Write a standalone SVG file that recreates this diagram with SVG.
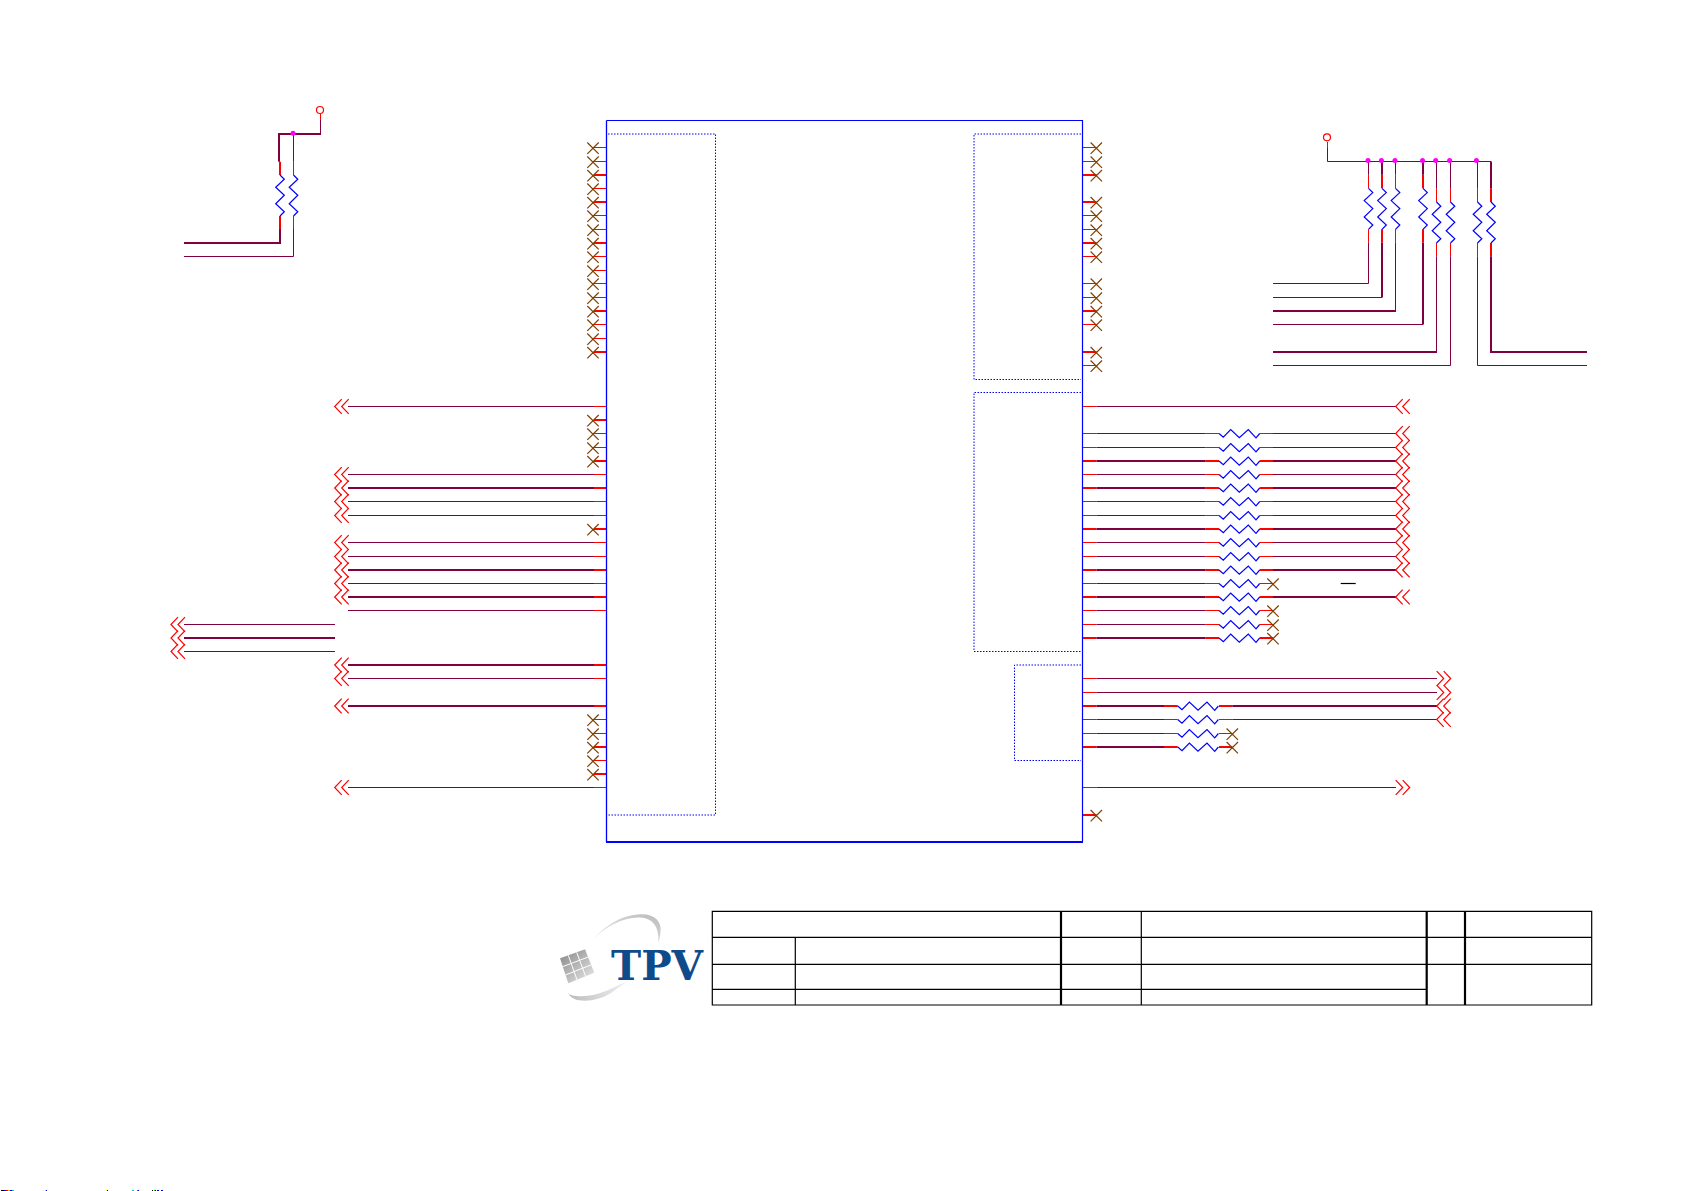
<svg xmlns="http://www.w3.org/2000/svg" width="1685" height="1191" viewBox="0 0 1685 1191">
<style>
.bg{fill:#fff}
.w{fill:none;stroke:#800040;stroke-width:1}
.W{fill:none;stroke:#800040;stroke-width:2}
.r{fill:none;stroke:#f00;stroke-width:1}
.R{fill:none;stroke:#f00;stroke-width:2}
.zig{fill:none;stroke:#00f;stroke-width:1.2}
.x{fill:none;stroke:#804000;stroke-width:1.2}
.chev{fill:none;stroke:#f00;stroke-width:1.2}
.dot{fill:none;stroke:#00f;stroke-width:1;stroke-dasharray:1.5 1.5}
.j{fill:#f0f}
.vcc{fill:#fff;stroke:#f00;stroke-width:1.2}
.t{stroke:#000;stroke-width:1.2;fill:none}
.T{stroke:#000;stroke-width:2.2;fill:none}
</style>
<defs>
<path id="rh" class="zig" d="M0,0L4.3,3.7L11.7,-4L20.3,4.3L29.3,-4L37,4.3L40.7,0"/>
<path id="rv" class="zig" d="M0,0L4.3,4.3L-4.3,12.3L4.3,20.3L-4.3,28.7L4.3,36.7L0,41"/>
<path id="x" class="x" d="M-5.7,-5L5.7,6.4M-5.7,6.4L5.7,-5"/>
<path id="cl" class="chev" d="M-7,-7.3L-14,0L-7,7.3M0,-7.3L-7,0L0,7.3"/>
<path id="cr" class="chev" d="M0,-7.3L7,0L0,7.3M7,-7.3L14,0L7,7.3"/>
<linearGradient id="gp" x1="0" y1="0" x2="1" y2="1"><stop offset="0" stop-color="#858585"/><stop offset="1" stop-color="#ececec"/></linearGradient>
<linearGradient id="ga" x1="0" y1="1" x2="1" y2="0"><stop offset="0" stop-color="#f0f1f2"/><stop offset="1" stop-color="#b9bbbd"/></linearGradient>
<linearGradient id="gb" x1="0" y1="0" x2="1" y2="0"><stop offset="0" stop-color="#b9bbbd"/><stop offset="1" stop-color="#f2f3f4"/></linearGradient>
</defs>
<rect class="bg" width="1685" height="1191"/>

<g id="connectors">
<path class="w" d="M348,406.5H594M348,474.5H594M348,501.5H594M348,515.5H594M348,542.5H594M348,556.5H594M348,583.5H594M348,610.5H594M348,678.5H594M348,787.5H594"/>
<path class="W" d="M348,488H594M348,570H594M348,597H594M348,665H594M348,706H594"/>
<path class="w" d="M184,624.5H335M184,651.5H335"/>
<path class="W" d="M184,638H335"/>
<path class="r" d="M606,147.5H594M606,161.5H594M606,188.5H594M606,215.5H594M606,229.5H594M606,256.5H594M606,270.5H594M606,283.5H594M606,297.5H594M606,324.5H594M606,338.5H594M606,406.5H594M606,433.5H594M606,447.5H594M606,474.5H594M606,501.5H594M606,515.5H594M606,542.5H594M606,556.5H594M606,583.5H594M606,610.5H594M606,678.5H594M606,719.5H594M606,733.5H594M606,760.5H594M606,787.5H594"/>
<path class="R" d="M606,175H594M606,202H594M606,243H594M606,311H594M606,352H594M606,420H594M606,461H594M606,488H594M606,529H594M606,570H594M606,597H594M606,665H594M606,706H594M606,747H594M606,774H594"/>
<path class="r" d="M1082,147.5H1096.5M1082,161.5H1096.5M1082,215.5H1096.5M1082,229.5H1096.5M1082,256.5H1096.5M1082,283.5H1096.5M1082,297.5H1096.5M1082,324.5H1096.5M1082,365.5H1096.5M1082,406.5H1096.5M1082,433.5H1096.5M1082,447.5H1096.5M1082,474.5H1096.5M1082,501.5H1096.5M1082,515.5H1096.5M1082,542.5H1096.5M1082,556.5H1096.5M1082,583.5H1096.5M1082,610.5H1096.5M1082,624.5H1096.5M1082,678.5H1096.5M1082,692.5H1096.5M1082,719.5H1096.5M1082,733.5H1096.5M1082,787.5H1096.5"/>
<path class="R" d="M1082,175H1096.5M1082,202H1096.5M1082,243H1096.5M1082,311H1096.5M1082,352H1096.5M1082,461H1096.5M1082,488H1096.5M1082,529H1096.5M1082,570H1096.5M1082,597H1096.5M1082,638H1096.5M1082,706H1096.5M1082,747H1096.5M1082,815H1096.5"/>
<path class="w" d="M1096.5,406.5H1396M1096.5,678.5H1437M1096.5,692.5H1437M1096.5,787.5H1396"/>
<path class="w" d="M1096.5,433.5H1205.7M1096.5,447.5H1205.7M1096.5,474.5H1205.7M1096.5,501.5H1205.7M1096.5,515.5H1205.7M1096.5,542.5H1205.7M1096.5,556.5H1205.7M1096.5,583.5H1205.7M1096.5,610.5H1205.7M1096.5,624.5H1205.7"/>
<path class="W" d="M1096.5,461H1205.7M1096.5,488H1205.7M1096.5,529H1205.7M1096.5,570H1205.7M1096.5,597H1205.7M1096.5,638H1205.7"/>
<path class="r" d="M1205.7,433.5H1219M1205.7,447.5H1219M1205.7,474.5H1219M1205.7,501.5H1219M1205.7,515.5H1219M1205.7,542.5H1219M1205.7,556.5H1219M1205.7,583.5H1219M1205.7,610.5H1219M1205.7,624.5H1219"/>
<path class="R" d="M1205.7,461H1219M1205.7,488H1219M1205.7,529H1219M1205.7,570H1219M1205.7,597H1219M1205.7,638H1219"/>
<path class="r" d="M1259.7,433.5H1273M1259.7,447.5H1273M1259.7,474.5H1273M1259.7,501.5H1273M1259.7,515.5H1273M1259.7,542.5H1273M1259.7,556.5H1273M1259.7,583.5H1273M1259.7,610.5H1273M1259.7,624.5H1273"/>
<path class="R" d="M1259.7,461H1273M1259.7,488H1273M1259.7,529H1273M1259.7,570H1273M1259.7,597H1273M1259.7,638H1273"/>
<path class="w" d="M1273,433.5H1396M1273,447.5H1396M1273,474.5H1396M1273,501.5H1396M1273,515.5H1396M1273,542.5H1396M1273,556.5H1396"/>
<path class="W" d="M1273,461H1396M1273,488H1396M1273,529H1396M1273,570H1396M1273,597H1396"/>
<path class="W" d="M1096.5,706H1164M1096.5,747H1164"/>
<path class="w" d="M1096.5,719.5H1164M1096.5,733.5H1164"/>
<path class="R" d="M1164,706H1177.7M1164,747H1177.7M1219,706H1232.3M1219,747H1232.3"/>
<path class="r" d="M1164,719.5H1177.7M1164,733.5H1177.7M1219,719.5H1232.3M1219,733.5H1232.3"/>
<path class="W" d="M1232.3,706H1437"/>
<path class="w" d="M1232.3,719.5H1437"/>
<path class="r" d="M320.5,114V120M293.5,161.7V175M293.5,216V229"/>
<path class="R" d="M280,161.7V175M280,216V229"/>
<path class="w" d="M320.5,120V134M293.5,134V161.7M293.5,229V256.5H184"/>
<path class="W" d="M321,134H279V161.7M280,229V243H184"/>
<path class="r" d="M1327.5,142V148"/>
<path class="w" d="M1327.5,148V161.5H1491"/>
<path class="r" d="M1368.5,174.7V188.3M1368.5,229.3V242.7M1395.5,174.7V188.3M1395.5,229.3V242.7M1436.5,188.3V202M1436.5,243V256.3M1450.5,188.3V202M1450.5,243V256.3M1477.5,188.3V202M1477.5,243V256.3"/>
<path class="R" d="M1382,174.7V188.3M1382,229.3V242.7M1423,174.7V188.3M1423,229.3V242.7M1491,188.3V202M1491,243V256.3"/>
<path class="w" d="M1368.5,161.5V174.7M1368.5,242.7V283.5H1273M1395.5,161.5V174.7M1395.5,242.7V311M1436.5,161.5V188.3M1436.5,256.3V352M1450.5,161.5V188.3M1450.5,256.3V365.5H1273M1477.5,161.5V188.3M1477.5,256.3V365.5H1587"/>
<path class="W" d="M1382,161.5V174.7M1382,242.7V297.5M1423,161.5V174.7M1423,242.7V324.5M1491,161.5V188.3M1491,256.3V352H1587"/>
<path class="W" d="M1396,311H1273M1437,352H1273"/>
<path class="w" d="M1382,297.5H1273M1423,324.5H1273"/>
<path d="M1340.7,583.5H1355.7" stroke="#000" stroke-width="1.2" fill="none"/>
</g>

<g id="U1">
<path d="M606.5,120.5H1082.5V841.5" fill="none" stroke="#00f" stroke-width="1.2"/>
<path d="M606.5,120.5V842" fill="none" stroke="#00f" stroke-width="1.3"/>
<path d="M606,842H1083" fill="none" stroke="#00f" stroke-width="2"/>
<path class="dot" d="M608,134H715.5V815H608"/>
<path class="dot" d="M1081,134H974V379.5H1081"/>
<path class="dot" d="M1081,392.5H974V651.5H1081"/>
<path class="dot" d="M1081,665H1014.5V760.5H1081"/>
</g>

<g id="VCC1"><circle class="vcc" cx="320" cy="110" r="3.5"/></g>
<g id="VCC2"><circle class="vcc" cx="1327" cy="137.3" r="3.5"/></g>
<g id="J1"><circle class="j" cx="293" cy="133.2" r="2.5"/></g>
<g id="J2"><circle class="j" cx="1368" cy="160.5" r="2.5"/></g>
<g id="J3"><circle class="j" cx="1381.4" cy="160.5" r="2.5"/></g>
<g id="J4"><circle class="j" cx="1395" cy="160.5" r="2.5"/></g>
<g id="J5"><circle class="j" cx="1422.5" cy="160.5" r="2.5"/></g>
<g id="J6"><circle class="j" cx="1435.7" cy="160.5" r="2.5"/></g>
<g id="J7"><circle class="j" cx="1449.6" cy="160.5" r="2.5"/></g>
<g id="J8"><circle class="j" cx="1476.4" cy="160.5" r="2.5"/></g>

<g id="RV1"><use href="#rv" x="280" y="175"/></g>
<g id="RV2"><use href="#rv" x="293.5" y="175"/></g>
<g id="RV3"><use href="#rv" x="1368.5" y="188.3"/></g>
<g id="RV4"><use href="#rv" x="1382" y="188.3"/></g>
<g id="RV5"><use href="#rv" x="1395.5" y="188.3"/></g>
<g id="RV6"><use href="#rv" x="1423" y="188.3"/></g>
<g id="RV7"><use href="#rv" x="1436.5" y="202"/></g>
<g id="RV8"><use href="#rv" x="1450.5" y="202"/></g>
<g id="RV9"><use href="#rv" x="1477.5" y="202"/></g>
<g id="RV10"><use href="#rv" x="1491" y="202"/></g>

<g id="RH1"><use href="#rh" x="1219" y="433.5"/></g>
<g id="RH2"><use href="#rh" x="1219" y="447.5"/></g>
<g id="RH3"><use href="#rh" x="1219" y="461"/></g>
<g id="RH4"><use href="#rh" x="1219" y="474.5"/></g>
<g id="RH5"><use href="#rh" x="1219" y="488"/></g>
<g id="RH6"><use href="#rh" x="1219" y="501.5"/></g>
<g id="RH7"><use href="#rh" x="1219" y="515.5"/></g>
<g id="RH8"><use href="#rh" x="1219" y="529"/></g>
<g id="RH9"><use href="#rh" x="1219" y="542.5"/></g>
<g id="RH10"><use href="#rh" x="1219" y="556.5"/></g>
<g id="RH11"><use href="#rh" x="1219" y="570"/></g>
<g id="RH12"><use href="#rh" x="1219" y="583.5"/></g>
<g id="RH13"><use href="#rh" x="1219" y="597"/></g>
<g id="RH14"><use href="#rh" x="1219" y="610.5"/></g>
<g id="RH15"><use href="#rh" x="1219" y="624.5"/></g>
<g id="RH16"><use href="#rh" x="1219" y="638"/></g>
<g id="RH17"><use href="#rh" x="1177.7" y="706"/></g>
<g id="RH18"><use href="#rh" x="1177.7" y="719.5"/></g>
<g id="RH19"><use href="#rh" x="1177.7" y="733.5"/></g>
<g id="RH20"><use href="#rh" x="1177.7" y="747"/></g>

<g id="NC-left">
<use href="#x" x="593" y="147.5"/><use href="#x" x="593" y="161.5"/><use href="#x" x="593" y="175"/><use href="#x" x="593" y="188.5"/><use href="#x" x="593" y="202"/><use href="#x" x="593" y="215.5"/><use href="#x" x="593" y="229.5"/><use href="#x" x="593" y="243"/><use href="#x" x="593" y="256.5"/><use href="#x" x="593" y="270.5"/><use href="#x" x="593" y="283.5"/><use href="#x" x="593" y="297.5"/><use href="#x" x="593" y="311"/><use href="#x" x="593" y="324.5"/><use href="#x" x="593" y="338.5"/><use href="#x" x="593" y="352"/>
<use href="#x" x="593" y="420"/><use href="#x" x="593" y="433.5"/><use href="#x" x="593" y="447.5"/><use href="#x" x="593" y="461"/><use href="#x" x="593" y="529"/>
<use href="#x" x="593" y="719.5"/><use href="#x" x="593" y="733.5"/><use href="#x" x="593" y="747"/><use href="#x" x="593" y="760.5"/><use href="#x" x="593" y="774"/>
</g>
<g id="NC-right">
<use href="#x" x="1096.3" y="147.5"/><use href="#x" x="1096.3" y="161.5"/><use href="#x" x="1096.3" y="175"/><use href="#x" x="1096.3" y="202"/><use href="#x" x="1096.3" y="215.5"/><use href="#x" x="1096.3" y="229.5"/><use href="#x" x="1096.3" y="243"/><use href="#x" x="1096.3" y="256.5"/><use href="#x" x="1096.3" y="283.5"/><use href="#x" x="1096.3" y="297.5"/><use href="#x" x="1096.3" y="311"/><use href="#x" x="1096.3" y="324.5"/><use href="#x" x="1096.3" y="352"/><use href="#x" x="1096.3" y="365.5"/><use href="#x" x="1096.3" y="815"/>
<use href="#x" x="1273" y="583.5"/><use href="#x" x="1273" y="610.5"/><use href="#x" x="1273" y="624.5"/><use href="#x" x="1273" y="638"/>
<use href="#x" x="1232.3" y="733.5"/><use href="#x" x="1232.3" y="747"/>
</g>
<g id="offpage-left">
<use href="#cl" x="348.7" y="406.5"/><use href="#cl" x="348.7" y="474.5"/><use href="#cl" x="348.7" y="488"/><use href="#cl" x="348.7" y="501.5"/><use href="#cl" x="348.7" y="515.5"/><use href="#cl" x="348.7" y="542.5"/><use href="#cl" x="348.7" y="556.5"/><use href="#cl" x="348.7" y="570"/><use href="#cl" x="348.7" y="583.5"/><use href="#cl" x="348.7" y="597"/><use href="#cl" x="348.7" y="665"/><use href="#cl" x="348.7" y="678.5"/><use href="#cl" x="348.7" y="706"/><use href="#cl" x="348.7" y="787.5"/>
<use href="#cl" x="185" y="624.5"/><use href="#cl" x="185" y="638"/><use href="#cl" x="185" y="651.5"/>
</g>
<g id="offpage-right">
<use href="#cl" x="1409.7" y="406.5"/><use href="#cl" x="1409.7" y="433.5"/><use href="#cl" x="1409.7" y="447.5"/><use href="#cl" x="1409.7" y="461"/><use href="#cl" x="1409.7" y="474.5"/><use href="#cl" x="1409.7" y="488"/><use href="#cl" x="1409.7" y="501.5"/><use href="#cl" x="1409.7" y="515.5"/><use href="#cl" x="1409.7" y="529"/><use href="#cl" x="1409.7" y="542.5"/><use href="#cl" x="1409.7" y="556.5"/><use href="#cl" x="1409.7" y="570"/><use href="#cl" x="1409.7" y="597"/>
<use href="#cr" x="1436.7" y="678.5"/><use href="#cr" x="1436.7" y="692.5"/><use href="#cl" x="1450.7" y="706"/><use href="#cl" x="1450.7" y="719.5"/><use href="#cr" x="1395.7" y="787.5"/>
</g>

<g id="logo">
<path fill="url(#ga)" d="M591.7,940.7C605,925 622,915 640,914.2C655,913.5 662,922 660.5,932C660,937 659,941 658.3,943.3C659.5,930 655,919 642,917.7C625,916 606,926 591.7,940.7Z"/>
<path fill="url(#gb)" d="M568.3,993.3C571,1000 581,1002 593,1000C610,997 616,988 630,980C612,988 602,994 590,995.5C580,996.5 572,997 568.3,993.3Z"/>
<path fill="url(#gp)" d="M560,958.3L585,949.3L594.3,972.7L568.3,983.3Z"/>
<path d="M568.3,955.3L577,979.8M576.7,952.3L585.6,976.2M562.8,966.6L588.1,957.1M565.5,975L591.2,964.9" stroke="#fff" stroke-width="1" fill="none"/>
<text x="611" y="980" font-family="'DejaVu Serif',serif" font-weight="bold" font-size="41" fill="#0f4a8a" textLength="92" lengthAdjust="spacingAndGlyphs">TPV</text>
</g>

<g id="title-block">
<path class="t" d="M712.3,911.3H1591.7V1005H712.3ZM712.3,937.3H1591.7M712.3,964.3H1591.7M712.3,989.3H1426.7M795.3,937.3V1005M1141.3,911.3V1005"/>
<path class="T" d="M1061,911.3V1005M1426.7,911.3V1005M1465,911.3V1005"/>
</g>

<g id="clipped-text" shape-rendering="crispEdges">
<rect x="1" y="1190" width="3" height="1" fill="#000"/><rect x="4" y="1190" width="2" height="1" fill="#00f"/><rect x="6" y="1190" width="2" height="1" fill="#f00"/><rect x="8" y="1190" width="2" height="1" fill="#fa0"/><rect x="10" y="1190" width="2" height="1" fill="#00f"/><rect x="12" y="1190" width="2" height="1" fill="#0cc"/>
<rect x="45" y="1190" width="1" height="1" fill="#fc0"/><rect x="46" y="1190" width="1" height="1" fill="#00f"/>
<rect x="106" y="1190" width="1" height="1" fill="#ff0"/><rect x="107" y="1190" width="1" height="1" fill="#000"/>
<rect x="132" y="1190" width="2" height="1" fill="#0cc"/><rect x="137" y="1190" width="1" height="1" fill="#f0f"/><rect x="138" y="1190" width="1" height="1" fill="#00f"/>
<rect x="152" y="1190" width="1" height="1" fill="#000"/><rect x="154" y="1190" width="1" height="1" fill="#0c0"/><rect x="155" y="1190" width="1" height="1" fill="#000"/><rect x="157" y="1190" width="2" height="1" fill="#00f"/><rect x="161" y="1190" width="2" height="1" fill="#00f"/>
</g>
</svg>
